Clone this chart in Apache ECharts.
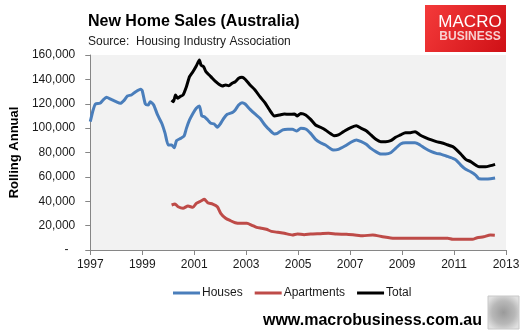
<!DOCTYPE html>
<html>
<head>
<meta charset="utf-8">
<style>
  html, body { margin: 0; padding: 0; background: #ffffff; }
  #chart { width: 525px; height: 335px; }
</style>
<script src="https://cdn.jsdelivr.net/npm/echarts@6/dist/echarts.min.js"></script>
</head>
<body>
<div id="chart"></div>
<script>
// Rolling annual new home sales, Australia (HIA)
var houseYears = [1997.00, 1997.11, 1997.20, 1997.37, 1997.49, 1997.62, 1997.80, 1997.99, 1998.16, 1998.31,
  1998.43, 1998.58, 1998.75, 1998.94, 1999.00, 1999.12, 1999.23, 1999.31, 1999.44, 1999.59,
  1999.75, 1999.88, 2000.00, 2000.13, 2000.23, 2000.32, 2000.48, 2000.61, 2000.70, 2000.82,
  2000.95, 2001.08, 2001.20, 2001.29, 2001.39, 2001.52, 2001.64, 2001.77, 2001.89, 2002.02,
  2002.14, 2002.27, 2002.46, 2002.58, 2002.71, 2002.84, 2002.96, 2003.15, 2003.34, 2003.53,
  2003.72, 2003.90, 2004.09, 2004.20, 2004.41, 2004.60, 2004.78, 2004.95, 2005.10, 2005.29,
  2005.48, 2005.67, 2005.86, 2006.05, 2006.23, 2006.36, 2006.55, 2006.80, 2007.05, 2007.24,
  2007.43, 2007.62, 2007.80, 2007.99, 2008.18, 2008.37, 2008.56, 2008.75, 2008.94, 2009.13,
  2009.32, 2009.50, 2009.69, 2009.88, 2010.13, 2010.32, 2010.51, 2010.70, 2010.95, 2011.08,
  2011.26, 2011.45, 2011.64, 2011.83, 2011.96, 2012.21, 2012.40, 2012.58];
var houses = [105300, 114900, 119800, 120400, 123000, 125300, 123600, 121700, 120400, 123000,
  126400, 127200, 129900, 131800, 130700, 119800, 119000, 121700, 119000, 110800,
  104000, 95700, 86200, 86200, 84000, 89700, 91600, 93500, 99800, 106700,
  112100, 116300, 118200, 110000, 109400, 106700, 104000, 103400, 100700, 104000,
  108100, 111300, 112700, 114900, 119000, 120900, 119800, 115400, 111600, 108100,
  102600, 98500, 95200, 95700, 98500, 99000, 99000, 97600, 99800, 99300,
  95700, 90800, 88000, 86200, 83400, 82000, 82600, 85300, 88600, 90300,
  88900, 86700, 83400, 80700, 78800, 78800, 79800, 83400, 87000, 88000,
  88000, 88000, 86200, 83500, 80700, 79300, 78500, 77100, 75200, 73800,
  69700, 66200, 64200, 61500, 58500, 58300, 58500, 59100];

var aptYears = [2000.13, 2000.26, 2000.38, 2000.57, 2000.76, 2000.95, 2001.08, 2001.26, 2001.39, 2001.52,
  2001.71, 2001.89, 2002.02, 2002.21, 2002.40, 2002.58, 2002.77, 2003.03, 2003.22, 2003.40,
  2003.59, 2003.78, 2003.97, 2004.22, 2004.47, 2004.78, 2004.97, 2005.23, 2005.48, 2005.86,
  2006.17, 2006.48, 2006.86, 2007.18, 2007.49, 2007.87, 2008.25, 2008.69, 2009.25, 2010.00,
  2010.76, 2010.95, 2011.71, 2011.89, 2012.14, 2012.40, 2012.57];
var apartments = [36900, 37700, 35500, 34200, 36100, 35000, 38300, 40200, 41600, 38800,
  37700, 35500, 30100, 26000, 24000, 22400, 21900, 21900, 20300, 18600,
  17800, 17000, 15300, 14500, 13700, 12300, 13100, 12600, 13100, 13400,
  13700, 13100, 12900, 12300, 11700, 12300, 10900, 9600, 9600, 9600,
  9600, 8800, 8800, 10100, 10900, 12300, 12100];

var totalYears = [2000.13, 2000.20, 2000.28, 2000.36, 2000.45, 2000.57, 2000.70, 2000.82, 2000.95, 2001.08,
  2001.20, 2001.26, 2001.36, 2001.45, 2001.58, 2001.70, 2001.83, 2001.95, 2002.08, 2002.21,
  2002.33, 2002.46, 2002.58, 2002.71, 2002.84, 2002.96, 2003.15, 2003.34, 2003.53, 2003.72,
  2003.90, 2004.09, 2004.28, 2004.47, 2004.66, 2004.85, 2004.97, 2005.10, 2005.29, 2005.48,
  2005.67, 2005.86, 2006.05, 2006.23, 2006.38, 2006.55, 2006.71, 2006.80, 2007.05, 2007.24,
  2007.43, 2007.62, 2007.80, 2007.99, 2008.18, 2008.37, 2008.56, 2008.75, 2008.94, 2009.13,
  2009.32, 2009.50, 2009.69, 2009.88, 2010.13, 2010.32, 2010.51, 2010.70, 2010.95, 2011.08,
  2011.26, 2011.45, 2011.64, 2011.83, 2011.96, 2012.21, 2012.40, 2012.58];
var totals = [123000, 121700, 127200, 124500, 125800, 127200, 134000, 142200, 146300, 151000,
  155900, 151800, 150400, 146300, 143600, 140900, 138100, 136000, 134600, 135400,
  134800, 136800, 138100, 140900, 141700, 140100, 135400, 131300, 125800, 120900,
  114900, 110000, 110800, 111600, 111300, 111600, 110000, 112100, 110800, 107200,
  102600, 100700, 98500, 95700, 93800, 94400, 96600, 97900, 100700, 102000,
  99800, 97900, 94400, 90800, 88900, 88900, 89700, 92500, 94400, 96300,
  96300, 97100, 94400, 92500, 90300, 88900, 88000, 86700, 84800, 82600,
  78800, 74400, 72500, 69700, 68300, 68300, 69200, 70300];

var seriesNames = ['Houses', 'Apartments', 'Total'];
var seriesColors = ['#4a7ebb', '#be4b48', '#000000'];
var yearTicks = [1997, 1999, 2001, 2003, 2005, 2007, 2009, 2011, 2013];

function pairs(xs, ys) {
  return xs.map(function (x, i) { return [x, ys[i]]; });
}

var FONT = "'Liberation Sans', Arial, sans-serif";

var chart = echarts.init(document.getElementById('chart'), null, { renderer: 'canvas' });

var seriesData = [pairs(houseYears, houses), pairs(aptYears, apartments), pairs(totalYears, totals)];

chart.setOption({
  animation: false,
  backgroundColor: '#ffffff',
  title: {
    text: 'New Home Sales (Australia)',
    subtext: 'Source:  Housing Industry Association',
    left: 83,
    top: 9,
    itemGap: 6,
    textStyle: { fontFamily: FONT, fontSize: 16, fontWeight: 'bold', color: '#000000' },
    subtextStyle: { fontFamily: FONT, fontSize: 12, color: '#1a1a1a' }
  },
  legend: {
    left: 168,
    top: 282,
    icon: 'rect',
    itemWidth: 27,
    itemHeight: 3,
    itemGap: 12,
    data: seriesNames,
    textStyle: { fontFamily: FONT, fontSize: 12, color: '#1a1a1a', padding: [0, 0, 0, -3] }
  },
  grid: {
    left: 82, right: 19, top: 55, bottom: 85,
    show: true, backgroundColor: '#f2f2f2', borderWidth: 0
  },
  xAxis: {
    type: 'value',
    min: yearTicks[0],
    max: yearTicks[yearTicks.length - 1],
    interval: 2,
    axisLine: { show: true, lineStyle: { color: '#868686', width: 1 } },
    axisTick: { show: true, length: 5, lineStyle: { color: '#868686' } },
    splitLine: { show: false },
    axisLabel: {
      margin: 9,
      fontFamily: FONT, fontSize: 12, color: '#1a1a1a',
      formatter: function (v) { return String(v); }
    }
  },
  yAxis: {
    type: 'value',
    min: 0, max: 160000, interval: 20000,
    name: 'Rolling Annual',
    nameLocation: 'middle',
    nameRotate: 90,
    nameGap: 66,
    nameTextStyle: { fontFamily: FONT, fontSize: 13, fontWeight: 'bold', color: '#000000' },
    axisLine: { show: true, lineStyle: { color: '#868686', width: 1 } },
    axisTick: { show: true, length: 5, lineStyle: { color: '#868686' } },
    splitLine: { show: false },
    axisLabel: {
      margin: 15,
      fontFamily: FONT, fontSize: 12, color: '#1a1a1a',
      formatter: function (v) {
        return v === 0 ? '-  ' : v.toLocaleString('en-US');
      }
    }
  },
  series: seriesNames.map(function (name, i) {
    return {
      name: name,
      type: 'line',
      data: seriesData[i],
      showSymbol: false,
      symbol: 'none',
      smooth: 0.2,
      color: seriesColors[i],
      lineStyle: { width: 3, color: seriesColors[i] },
      z: 2 + i
    };
  }),
  graphic: [
    {
      type: 'rect',
      shape: { x: 425, y: 5, width: 81, height: 47 },
      style: {
        fill: new echarts.graphic.LinearGradient(0, 0, 1, 1, [
          { offset: 0, color: '#f43a3a' },
          { offset: 1, color: '#cf1016' }
        ])
      }
    },
    {
      type: 'text',
      style: {
        x: 470, y: 22, text: 'MACRO', align: 'center', verticalAlign: 'middle',
        fill: '#ffffff', font: 'normal 17px ' + FONT
      }
    },
    {
      type: 'text',
      style: {
        x: 470, y: 37, text: 'BUSINESS', align: 'center', verticalAlign: 'middle',
        fill: '#f8d0d0', font: 'bold 12px ' + FONT
      }
    },
    {
      type: 'text',
      style: {
        x: 482, y: 321, text: 'www.macrobusiness.com.au', align: 'right', verticalAlign: 'middle',
        fill: '#000000', font: 'bold 16px ' + FONT
      }
    },
    {
      type: 'rect',
      shape: { x: 488, y: 296, width: 31, height: 33 },
      style: {
        fill: new echarts.graphic.RadialGradient(0.5, 0.5, 0.6, [
          { offset: 0, color: '#9a9a9a' },
          { offset: 0.6, color: '#b8b8b8' },
          { offset: 1, color: '#e0e0e0' }
        ]),
        stroke: '#c8c8c8', lineWidth: 1
      }
    }
  ]
});
</script>
</body>
</html>
